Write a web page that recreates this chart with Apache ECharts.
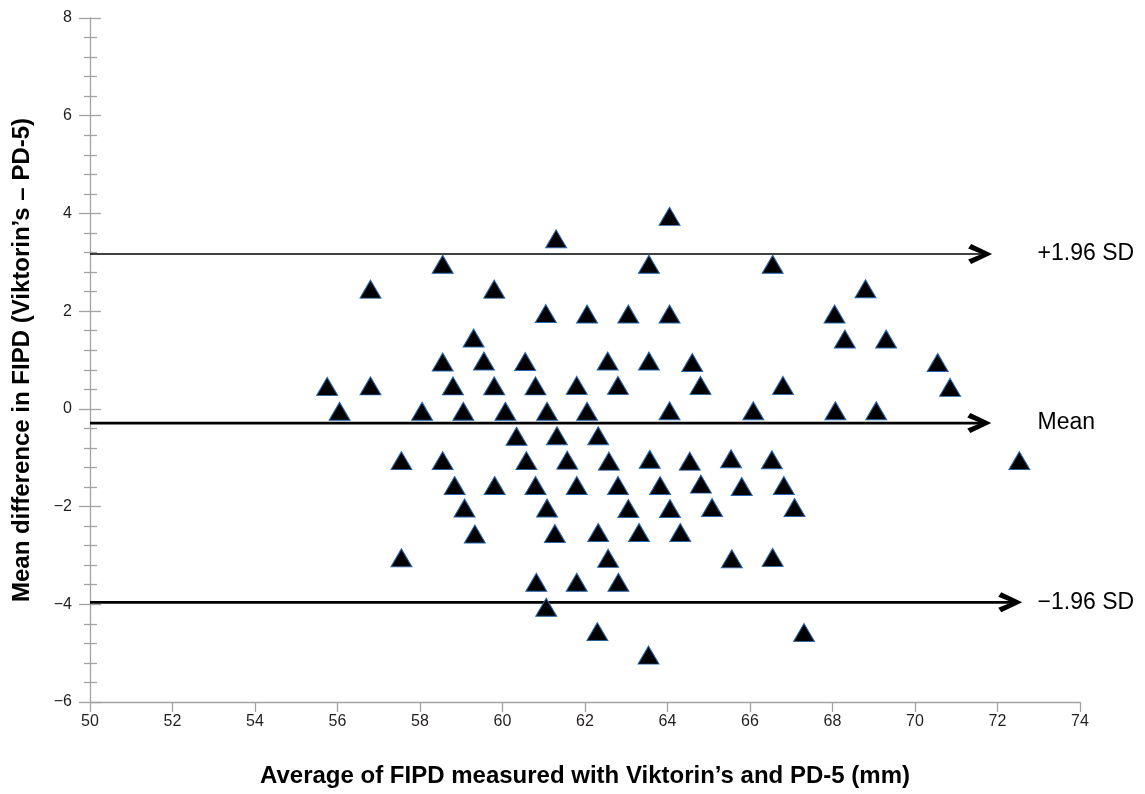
<!DOCTYPE html>
<html>
<head>
<meta charset="utf-8">
<script src="https://cdn.jsdelivr.net/npm/echarts@6/dist/echarts.min.js"></script>
<style>
html,body{margin:0;padding:0;background:#fff;}
#chart{width:1145px;height:794px;}
</style>
</head>
<body>
<div id="chart"></div>
<script>
// Average of FIPD (x) and difference (y) for each eye
const avgValues = [
  64.05,
  61.3,
  58.55, 63.55, 66.55,
  56.8, 59.8, 68.8,
  61.05, 62.05, 63.05, 64.05, 68.05,
  59.3, 68.3, 69.3,
  58.55, 59.55, 60.55, 62.55, 63.55, 64.6, 70.55,
  55.75, 56.8, 58.8, 59.8, 60.8, 61.8, 62.8, 64.8, 66.8, 70.85,
  56.05, 58.05, 59.05, 60.07, 61.08, 62.05, 64.05, 66.08, 68.07, 69.06,
  60.34, 61.32, 62.32,
  57.55, 58.55, 60.58, 61.57, 62.58, 63.57, 64.54, 65.54, 66.53, 72.53,
  58.84, 59.81, 60.8, 61.8, 62.8, 63.82, 64.81, 65.8, 66.82,
  59.08, 61.08, 63.05, 64.06, 65.08, 67.08,
  59.33, 61.27, 62.32, 63.31, 64.31,
  57.55, 62.56, 65.56, 66.55,
  60.82, 61.8, 62.81,
  61.06,
  62.3, 67.31,
  63.54
];
const diffValues = [
  3.94,
  3.48,
  2.96, 2.96, 2.96,
  2.45, 2.45, 2.46,
  1.95, 1.94, 1.94, 1.94, 1.94,
  1.45, 1.43, 1.43,
  0.96, 0.98, 0.97, 0.98, 0.98, 0.95, 0.95,
  0.46, 0.47, 0.47, 0.47, 0.47, 0.48, 0.48, 0.48, 0.48, 0.44,
  -0.05, -0.05, -0.05, -0.05, -0.05, -0.05, -0.04, -0.04, -0.04, -0.04,
  -0.56, -0.55, -0.55,
  -1.06, -1.06, -1.06, -1.05, -1.07, -1.03, -1.07, -1.02, -1.04, -1.06,
  -1.57, -1.57, -1.57, -1.57, -1.57, -1.57, -1.54, -1.59, -1.57,
  -2.03, -2.03, -2.04, -2.04, -2.02, -2.02,
  -2.56, -2.55, -2.53, -2.53, -2.53,
  -3.05, -3.06, -3.07, -3.04,
  -3.55, -3.55, -3.55,
  -4.06,
  -4.56, -4.58,
  -5.04
];
// Limits of agreement
const limitNames = ['+1.96 SD', 'Mean', '\u22121.96 SD'];
const limitValues = [3.17, -0.29, -3.96];
const limitEnds = [71.87, 71.85, 72.6];
const limitLabelX = 72.96;
const limitWidths = [1.6, 2.8, 2.8];

const xTicks = {min: 50, max: 74, interval: 2};
const yTicks = {min: -6, max: 8, interval: 2};

const TEXT = '#231f20';
const AXIS = '#a3a3a3';
const FONT = '"Liberation Sans", Arial, sans-serif';
const chevron = 'path://M3,0 L24,10 L3,20 L0,15.5 L13.5,10 L0,4.5 Z';

const points = avgValues.map((x, i) => [x, diffValues[i]]);

const series = [];
limitValues.forEach((v, i) => {
  series.push({
    type: 'line',
    data: [[xTicks.min, v], [limitEnds[i] - 0.1, v]],
    symbol: 'none',
    silent: true,
    lineStyle: {color: '#000', width: limitWidths[i]},
    z: 2
  });
});
series.push({
  type: 'scatter',
  data: limitValues.map((v, i) => [limitEnds[i], v]),
  symbol: chevron,
  symbolSize: [24, 20],
  symbolOffset: [-12, 0],
  itemStyle: {color: '#000', opacity: 1},
  silent: true,
  z: 3
});
series.push({
  type: 'scatter',
  data: limitValues.map((v, i) => ({value: [limitLabelX, v], name: limitNames[i]})),
  symbolSize: 1,
  itemStyle: {color: '#fff', opacity: 1},
  label: {
    show: true, position: 'right', distance: 0,
    formatter: p => p.name,
    color: '#000', fontSize: 23, fontFamily: FONT
  },
  silent: true,
  z: 3
});
series.push({
  type: 'scatter',
  data: points,
  symbol: 'triangle',
  symbolSize: [21, 18],
  itemStyle: {color: '#000', borderColor: '#2466b0', borderWidth: 1, opacity: 1},
  z: 5
});

const fmtMinus = v => String(v).replace('-', '\u2212');

const option = {
  animation: false,
  backgroundColor: '#fff',
  grid: {left: 90, right: 65, top: 18, bottom: 92, containLabel: false},
  xAxis: {
    type: 'value', min: xTicks.min, max: xTicks.max, interval: xTicks.interval,
    name: 'Average of FIPD measured with Viktorin\u2019s and PD-5 (mm)',
    nameLocation: 'middle', nameGap: 62,
    nameTextStyle: {fontSize: 24, fontWeight: 'bold', color: '#000', fontFamily: FONT},
    axisLine: {show: true, onZero: false, lineStyle: {color: AXIS, width: 1.3}},
    axisTick: {show: true, length: 10, lineStyle: {color: AXIS, width: 1.3}},
    axisLabel: {color: TEXT, fontSize: 16, fontFamily: FONT, margin: 12, formatter: fmtMinus},
    splitLine: {show: false}
  },
  yAxis: [{
    type: 'value', min: yTicks.min, max: yTicks.max, interval: yTicks.interval,
    name: 'Mean difference in FIPD (Viktorin\u2019s \u2013 PD-5)',
    nameLocation: 'middle', nameGap: 56,
    nameTextStyle: {fontSize: 24, fontWeight: 'bold', color: '#000', fontFamily: FONT},
    axisLine: {show: true, onZero: false, lineStyle: {color: AXIS, width: 1.3}},
    axisTick: {show: true, length: 11, lineStyle: {color: AXIS, width: 1.3}},
    minorTick: {show: true, splitNumber: 5, length: 6, lineStyle: {color: AXIS, width: 1.3}},
    axisLabel: {color: TEXT, fontSize: 16, fontFamily: FONT, margin: 18, formatter: fmtMinus},
    splitLine: {show: false}, minorSplitLine: {show: false}
  }, {
    type: 'value', min: yTicks.min, max: yTicks.max, interval: yTicks.interval,
    position: 'left', offset: 0,
    axisLine: {show: false, onZero: false},
    axisTick: {show: true, inside: true, length: 11, lineStyle: {color: AXIS, width: 1.3}},
    minorTick: {show: true, splitNumber: 5, length: 7, lineStyle: {color: AXIS, width: 1.3}},
    axisLabel: {show: false},
    splitLine: {show: false}, minorSplitLine: {show: false}
  }],
  series: series
};

const chart = echarts.init(document.getElementById('chart'), null, {renderer: 'canvas'});
chart.setOption(option);
</script>
</body>
</html>
